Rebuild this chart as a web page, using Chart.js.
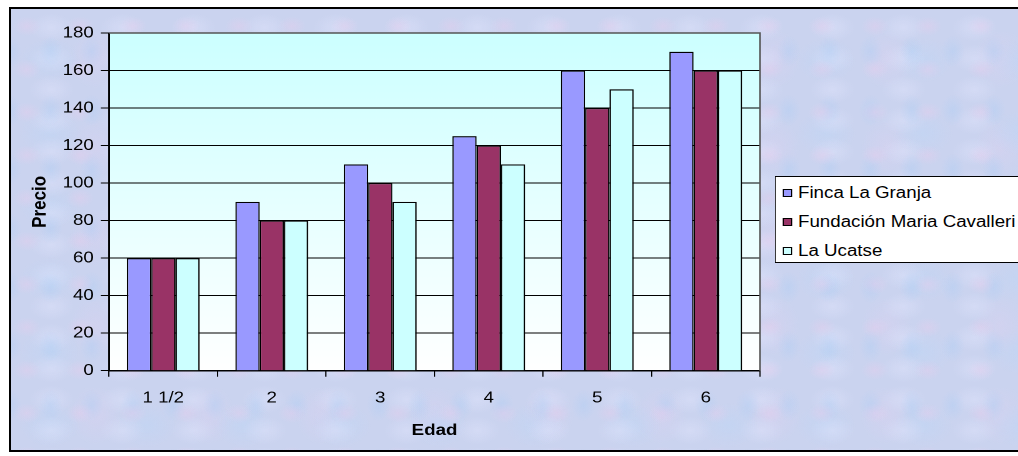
<!DOCTYPE html>
<html>
<head>
<meta charset="utf-8">
<script src="https://cdn.jsdelivr.net/npm/chart.js@4.4.1/dist/chart.umd.min.js"></script>
<style>
  html, body { margin: 0; padding: 0; background: #fff; overflow: hidden; }
  #frame {
    position: absolute; left: 9px; top: 7px; width: 1020px; height: 441px;
    border: 2px solid #000;
    background:
      radial-gradient(ellipse 14px 10px at 30% 40%, rgba(236,204,236,0.35), rgba(236,204,236,0)) 0 0 / 53px 43px,
      radial-gradient(ellipse 12px 16px at 70% 60%, rgba(170,205,245,0.35), rgba(170,205,245,0)) 11px 7px / 41px 59px,
      radial-gradient(ellipse 22px 14px at 50% 50%, rgba(224,228,252,0.45), rgba(224,228,252,0)) 5px 3px / 71px 31px,
      radial-gradient(ellipse 30px 22px at 40% 70%, rgba(185,215,248,0.35), rgba(185,215,248,0)) 0 0 / 97px 73px,
      radial-gradient(ellipse 26px 30px at 60% 30%, rgba(226,208,240,0.3), rgba(226,208,240,0)) 17px 23px / 113px 89px,
      #cad3ef;
  }
  #wrap {
    position: absolute; left: 0; top: 0; width: 870px; height: 456px;
    transform: scaleX(1.1701); transform-origin: 0 0;
  }
  #legend-box {
    position: absolute; left: 662px; top: 176px; width: 300px; height: 85px;
    background: #fff; border: 1px solid #000;
  }
  .item {
    position: absolute; left: 682px; font: 16px 'Liberation Sans', Arial, sans-serif;
    line-height: 20px; white-space: nowrap; color: #000;
  }
  .swatch { position: absolute; left: 669px; width: 6px; height: 6px; border: 1px solid #000; }
</style>
</head>
<body>
<div id="frame"></div>
<div id="wrap">
  <canvas id="chart" width="870" height="456"></canvas>
  <div id="legend-box"></div>
</div>
<script>
// ---------------- data ----------------
const categories = ['1 1/2', '2', '3', '4', '5', '6'];
const seriesNames = ['Finca La Granja', 'Fundación Maria Cavalleri', 'La Ucatse'];
const fincaLaGranja = [60, 90, 110, 125, 160, 170];
const fundacionMariaCavalleri = [60, 80, 100, 120, 140, 160];
const laUcatse = [60, 80, 90, 110, 150, 160];
const yMin = 0, yMax = 180, yStep = 20;
const xTitle = 'Edad';
const yTitle = 'Precio';

const seriesColors = ['#9999ff', '#993366', '#ccffff'];
const FONT = "'Liberation Sans', Arial, sans-serif";

// plot area fill (cyan to white) and the grey top/right frame
const plotArea = {
  id: 'plotArea',
  beforeDraw(chart) {
    const { ctx, chartArea: a } = chart;
    const g = ctx.createLinearGradient(0, a.top, 0, a.bottom);
    g.addColorStop(0, '#ccffff');
    g.addColorStop(1, '#ffffff');
    ctx.save();
    ctx.fillStyle = g;
    ctx.fillRect(a.left, a.top, a.right - a.left, a.bottom - a.top);
    ctx.restore();
  },
  afterDraw(chart) {
    const { ctx, chartArea: a } = chart;
    ctx.save();
    ctx.strokeStyle = '#555';
    ctx.lineWidth = 1.5;
    ctx.beginPath();
    ctx.moveTo(a.left, a.top);
    ctx.lineTo(a.right, a.top);
    ctx.lineTo(a.right, a.bottom);
    ctx.stroke();
    ctx.restore();
  }
};

const ctx = document.getElementById('chart').getContext('2d');
const chart = new Chart(ctx, {
  type: 'bar',
  data: {
    labels: categories,
    datasets: [fincaLaGranja, fundacionMariaCavalleri, laUcatse].map((d, i) => ({
      label: seriesNames[i],
      data: d,
      backgroundColor: seriesColors[i],
      borderColor: '#000',
      borderWidth: 1.2,
      categoryPercentage: 0.67,
      barPercentage: 1.0
    }))
  },
  options: {
    responsive: false,
    animation: false,
    devicePixelRatio: 2,
    layout: { padding: { left: 0, top: 33, right: 220.5, bottom: 0 } },
    plugins: { legend: { display: false }, tooltip: { enabled: false } },
    scales: {
      x: {
        afterFit(s) { s.height = 85.3; },
        grid: { drawOnChartArea: false, drawTicks: true, tickLength: 6, color: '#000', tickColor: '#000' },
        border: { display: true, color: '#000', width: 1.5 },
        ticks: { color: '#000', font: { family: FONT, size: 16 }, padding: 12 },
        title: { display: true, text: xTitle, color: '#000', font: { family: FONT, size: 16, weight: 'bold' }, padding: { top: 0, bottom: 16 } }
      },
      y: {
        min: yMin, max: yMax,
        afterFit(s) { s.width = 93.15; },
        grid: { color: '#000', lineWidth: 1, tickLength: 7, tickColor: '#000' },
        border: { display: true, color: '#000', width: 1.5 },
        ticks: { stepSize: yStep, color: '#000', font: { family: FONT, size: 16 }, padding: 6 },
        title: { display: true, text: yTitle, color: '#000', font: { family: FONT, size: 17, weight: 'bold' }, padding: { top: 24, bottom: 0 } }
      }
    }
  },
  plugins: [plotArea]
});

// legend (HTML) built from the chart datasets
const wrap = document.getElementById('wrap');
const baselines = [198.5, 227.5, 256.5];
chart.data.datasets.forEach((ds, i) => {
  const sw = document.createElement('div');
  sw.className = 'swatch';
  sw.style.top = (baselines[i] - 9.5) + 'px';
  sw.style.background = ds.backgroundColor;
  wrap.appendChild(sw);
  const t = document.createElement('div');
  t.className = 'item';
  t.style.top = (baselines[i] - 15.5) + 'px';
  t.textContent = ds.label;
  wrap.appendChild(t);
});
</script>
</body>
</html>
